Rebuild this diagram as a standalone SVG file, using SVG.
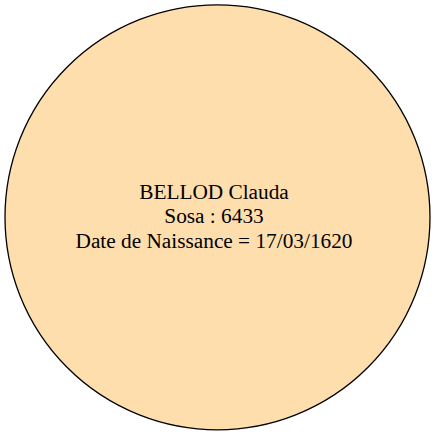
<svg xmlns="http://www.w3.org/2000/svg" width="435" height="435" viewBox="0 0 435 435">
<style>
.node{fill:#ffdead;stroke:#000;stroke-width:1.3}
.t{font-family:'Liberation Serif','Times New Roman',Times,serif;font-size:21.3px;fill:#000;text-anchor:middle}
</style>
<rect width="435" height="435" fill="#fff"/>
<g id="connectors"></g>
<g id="node1">
<circle class="node" cx="217.5" cy="217.3" r="212.5"/>
<text class="t" x="214" y="199">BELLOD Clauda</text>
<text class="t" x="214" y="222.5">Sosa : 6433</text>
<text class="t" x="214" y="248">Date de Naissance = 17/03/1620</text>
</g>
</svg>
